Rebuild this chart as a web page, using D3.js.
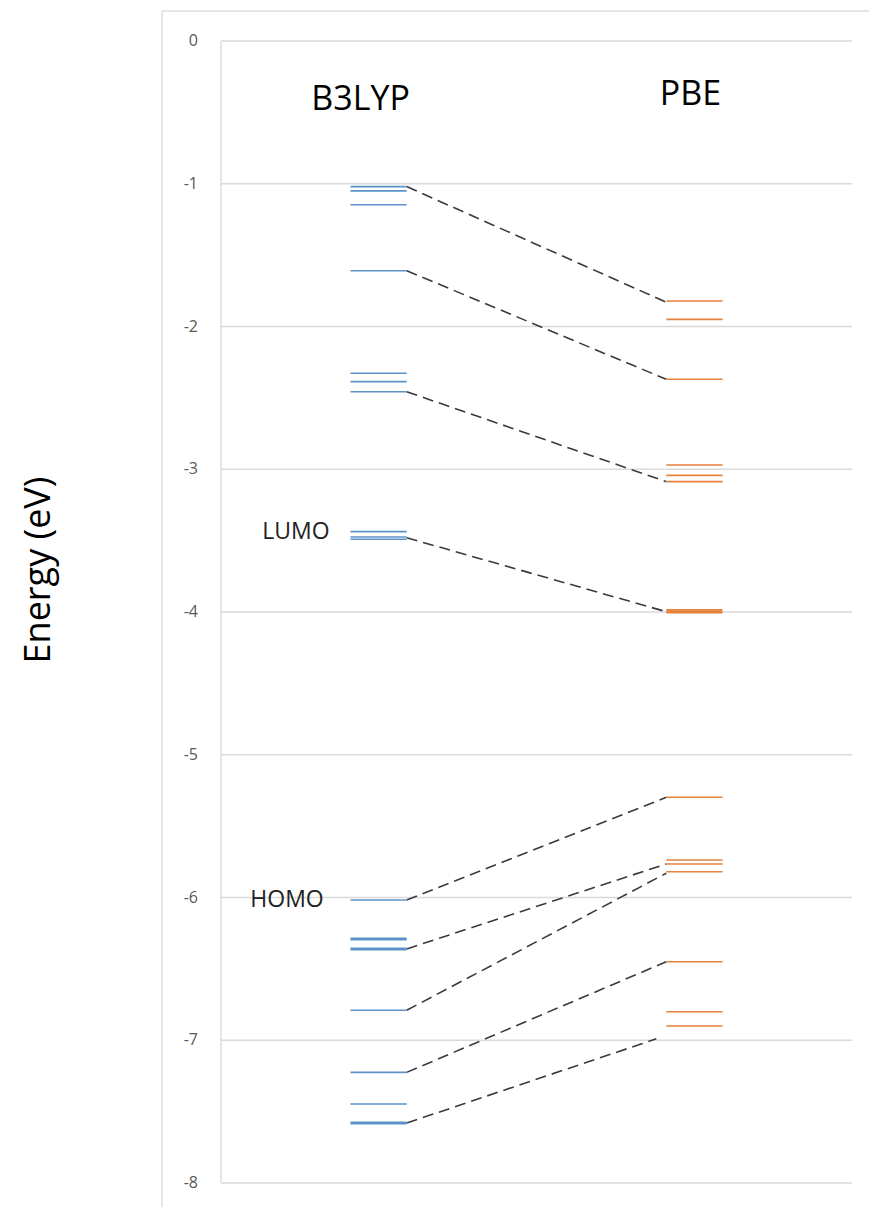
<!DOCTYPE html>
<html><head><meta charset="utf-8">
<script src="https://cdn.jsdelivr.net/npm/d3@7"></script>
<style>body{margin:0;background:#fff;} svg{display:block;}</style>
</head><body>
<script>
// ---- data ----
const methods = ["B3LYP", "PBE"];
const yTicks = [0, -1, -2, -3, -4, -5, -6, -7, -8];
const b3lypLevels = [-1.02, -1.05, -1.147, -1.609, -2.328, -2.386, -2.457, -3.437, -3.475, -3.49,
  -6.018, -6.285, -6.295, -6.355, -6.365, -6.79, -7.225, -7.447, -7.575, -7.585];
const pbeLevels = [-1.821, -1.95, -2.37, -2.97, -3.043, -3.087, -3.985, -3.995, -4.005,
  -5.298, -5.737, -5.765, -5.82, -6.45, -6.80, -6.90];
// correlation lines: [B3LYP energy, PBE energy]
const linkFrom = [-1.02, -1.609, -2.457, -3.48, -6.018, -6.36, -6.79, -7.225, -7.58];
const linkTo   = [-1.83, -2.37, -3.087, -3.998, -5.298, -5.765, -5.83, -6.45, -6.99];
const labels = [{text: "LUMO", e: -3.44}, {text: "HOMO", e: -6.02}];

const W = 869, H = 1207;
const svg = d3.select("body").append("svg").attr("width", W).attr("height", H);
const font = "'Open Sans', 'Liberation Sans', sans-serif";

const y = d3.scaleLinear().domain([0, -8]).range([41, 1183]);
const x = d3.scaleBand().domain(methods).range([221, 852]).paddingInner(0.822).paddingOuter(0.41);

// outer frame
svg.append("rect").attr("x", 162).attr("y", 11).attr("width", 720).attr("height", 1210)
  .attr("fill", "none").attr("stroke", "#d9d9d9").attr("stroke-width", 1.3);

// grid
svg.append("g").selectAll("line").data(yTicks).join("line")
  .attr("x1", 221).attr("x2", 852).attr("y1", d => y(d)).attr("y2", d => y(d))
  .attr("stroke", "#d9d9d9").attr("stroke-width", 1.3);
svg.append("line").attr("x1", 221).attr("x2", 221).attr("y1", y(0)).attr("y2", y(-8))
  .attr("stroke", "#d9d9d9").attr("stroke-width", 1.3);

// y tick labels
svg.append("g").selectAll("text").data(yTicks).join("text")
  .attr("x", 198).attr("y", d => y(d) + 5).attr("text-anchor", "end")
  .attr("font-family", font).attr("font-size", 16).attr("fill", "#595959")
  .text(d => d);

// axis title
svg.append("text").attr("transform", "translate(50,570) rotate(-90)")
  .attr("text-anchor", "middle").attr("font-family", font).attr("font-size", 36)
  .attr("fill", "#000").text("Energy (eV)");

// method labels
svg.append("g").selectAll("text").data(methods).join("text")
  .attr("x", d => x(d) + x.bandwidth() / 2 + (d === "B3LYP" ? -18 : -4))
  .attr("y", d => d === "B3LYP" ? 110 : 105)
  .attr("text-anchor", "middle").attr("font-family", font).attr("font-size", 34)
  .attr("fill", "#000").text(d => d);

// links
svg.append("g").selectAll("line").data(linkFrom).join("line")
  .attr("x1", x("B3LYP") + x.bandwidth()).attr("y1", d => y(d))
  .attr("x2", (d, i) => x("PBE") - (i === 8 ? 10 : 0)).attr("y2", (d, i) => y(linkTo[i]))
  .attr("stroke", "#3a3a3a").attr("stroke-width", 1.6).attr("stroke-dasharray", "11,6");

// levels
svg.append("g").selectAll("line").data(b3lypLevels).join("line")
  .attr("x1", x("B3LYP")).attr("x2", x("B3LYP") + x.bandwidth())
  .attr("y1", d => y(d)).attr("y2", d => y(d))
  .attr("stroke", "#5b93c9").attr("stroke-width", 1.6);
svg.append("g").selectAll("line").data(pbeLevels).join("line")
  .attr("x1", x("PBE")).attr("x2", x("PBE") + x.bandwidth())
  .attr("y1", d => y(d)).attr("y2", d => y(d))
  .attr("stroke", "#e5813a").attr("stroke-width", 1.6);

// LUMO/HOMO labels
svg.append("g").selectAll("text").data(labels).join("text")
  .attr("x", d => d.text === "LUMO" ? 296 : 287).attr("y", d => y(d.e) + 7)
  .attr("text-anchor", "middle").attr("font-family", font).attr("font-size", 23)
  .attr("fill", "#222").text(d => d.text);
</script>
</body></html>
